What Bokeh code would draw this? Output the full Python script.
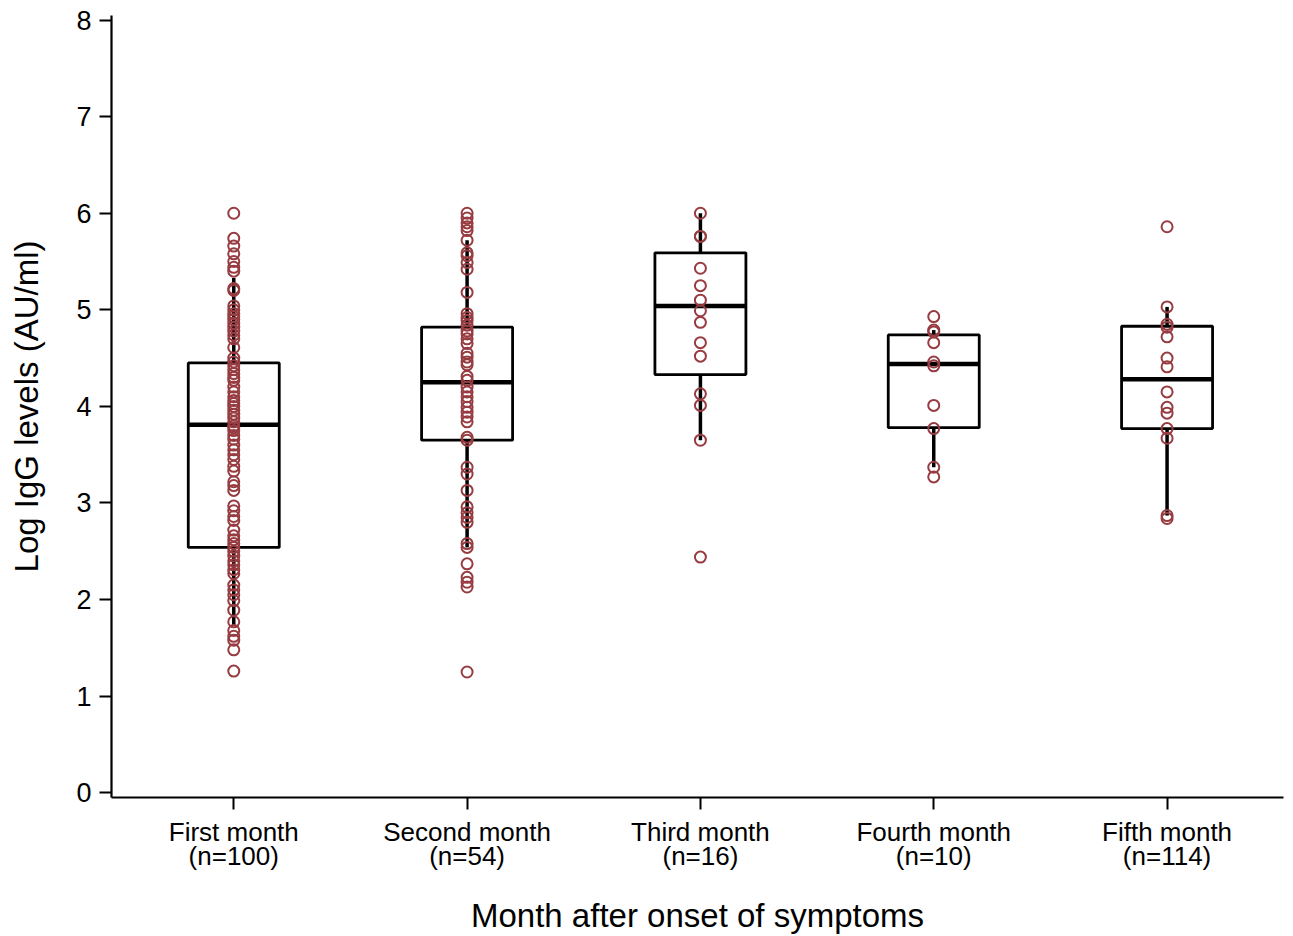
import numpy as np
from bokeh.plotting import figure
from bokeh.models import FixedTicker, Range1d
from bokeh.embed import file_html
from bokeh.resources import INLINE

# ---- data ----
months = ["First month", "Second month", "Third month", "Fourth month", "Fifth month"]
n_labels = ["(n=100)", "(n=54)", "(n=16)", "(n=10)", "(n=114)"]

q1 = [2.54, 3.65, 4.33, 3.78, 3.77]
median = [3.81, 4.25, 5.04, 4.44, 4.28]
q3 = [4.45, 4.82, 5.59, 4.74, 4.83]
whisker_lo = [1.73, 2.54, 3.65, 3.37, 2.87]
whisker_hi = [5.33, 5.72, 6.00, 4.79, 5.03]

first_month = [6.00, 5.74, 5.66, 5.58, 5.50, 5.44, 5.40, 5.22, 5.20,
               5.04, 5.00, 4.96, 4.93, 4.90, 4.86, 4.82, 4.78, 4.74, 4.70,
               4.61, 4.50, 4.46, 4.42, 4.38, 4.34, 4.30, 4.27,
               4.20, 4.15, 4.10, 4.06,
               4.03, 4.00, 3.96, 3.92, 3.88, 3.84, 3.80, 3.78, 3.75, 3.70, 3.66, 3.60, 3.55,
               3.50, 3.45, 3.38, 3.33, 3.22, 3.18, 3.13,
               2.97, 2.92, 2.86, 2.82,
               2.72, 2.66, 2.62, 2.58, 2.54, 2.50, 2.45, 2.40, 2.36, 2.31, 2.27,
               2.15, 2.10, 2.05, 1.99, 1.89, 1.77, 1.68, 1.62, 1.58, 1.48, 1.26]
second_month = [6.00, 5.95, 5.90, 5.86, 5.82, 5.72, 5.59, 5.56, 5.49, 5.42, 5.18,
                4.96, 4.92, 4.89, 4.84, 4.78, 4.75, 4.70, 4.65, 4.55, 4.51, 4.46, 4.43,
                4.31, 4.27, 4.20, 4.15, 4.10, 4.05, 3.99, 3.94, 3.89, 3.84, 3.68,
                3.65, 3.37, 3.30, 3.13, 2.96, 2.90, 2.85, 2.80, 2.58, 2.54, 2.37,
                2.23, 2.18, 2.13, 1.25]
third_month = [6.00, 5.76, 5.76, 5.43, 5.25, 5.10, 4.99, 4.87, 4.66, 4.52,
               4.13, 4.01, 3.65, 2.44]
fourth_month = [4.93, 4.79, 4.77, 4.66, 4.46, 4.42, 4.01, 3.77, 3.37, 3.27]
fifth_month = [5.86, 5.03, 4.85, 4.82, 4.72, 4.50, 4.41, 4.15, 3.99, 3.93,
               3.77, 3.67, 2.87, 2.84]

groups = [first_month, second_month, third_month, fourth_month, fifth_month]

# ---- styles ----
FONT = "Liberation Sans"
DOT = "#973C41"
BOX_W = 0.39

xs = np.arange(1, len(months) + 1, dtype=float)

p = figure(width=1290, height=936, output_backend="svg", toolbar_location=None,
           x_range=Range1d(0.476, 5.499), y_range=Range1d(-0.049, 8.047),
           min_border_left=111, min_border_right=7, min_border_top=15, min_border_bottom=139)
p.outline_line_color = None
p.xgrid.grid_line_color = None
p.ygrid.grid_line_color = None
p.background_fill_color = "white"
p.border_fill_color = "white"

# whiskers
p.segment(x0=xs, x1=xs, y0=q3, y1=whisker_hi, line_color="black", line_width=3.5)
p.segment(x0=xs, x1=xs, y0=q1, y1=whisker_lo, line_color="black", line_width=3.5)
# boxes
p.vbar(x=xs, width=BOX_W, bottom=q1, top=q3, fill_color=None,
       line_color="black", line_width=2.8)
# medians
p.segment(x0=xs - BOX_W / 2, x1=xs + BOX_W / 2, y0=median, y1=median,
          line_color="black", line_width=4.5)

# points
for i, vals in enumerate(groups):
    p.scatter(x=[xs[i]] * len(vals), y=vals, marker="circle", size=11,
              fill_color=None, line_color=DOT, line_width=2)

# axes
p.xaxis.ticker = FixedTicker(ticks=list(xs))
p.xaxis.major_label_overrides = {float(x): f"{m}\n{n}" for x, m, n in zip(xs, months, n_labels)}
p.yaxis.ticker = FixedTicker(ticks=list(range(0, 9)))

for ax in (p.xaxis[0], p.yaxis[0]):
    ax.axis_line_width = 2.2
    ax.axis_line_color = "black"
    ax.major_tick_line_width = 2
    ax.major_tick_line_color = "black"
    ax.major_tick_out = 12
    ax.major_tick_in = 0
    ax.minor_tick_out = 0
    ax.minor_tick_in = 0
    ax.major_label_text_font = FONT
    ax.major_label_text_font_size = "26px"
    ax.major_label_text_color = "black"
    ax.axis_label_text_font = FONT
    ax.axis_label_text_font_style = "normal"
    ax.axis_label_text_color = "black"
    ax.axis_label_text_font_size = "33px"

p.yaxis.major_label_text_font_size = "27px"
p.xaxis.major_label_text_line_height = 0.8
p.xaxis.major_label_standoff = 7
p.xaxis.axis_label = "Month after onset of symptoms"
p.xaxis.axis_label_standoff = 23
p.yaxis.major_label_standoff = 8
p.yaxis.axis_label = "Log IgG levels (AU/ml)"
p.yaxis.axis_label_standoff = 28

open("out.html", "w").write(file_html(p, INLINE))
